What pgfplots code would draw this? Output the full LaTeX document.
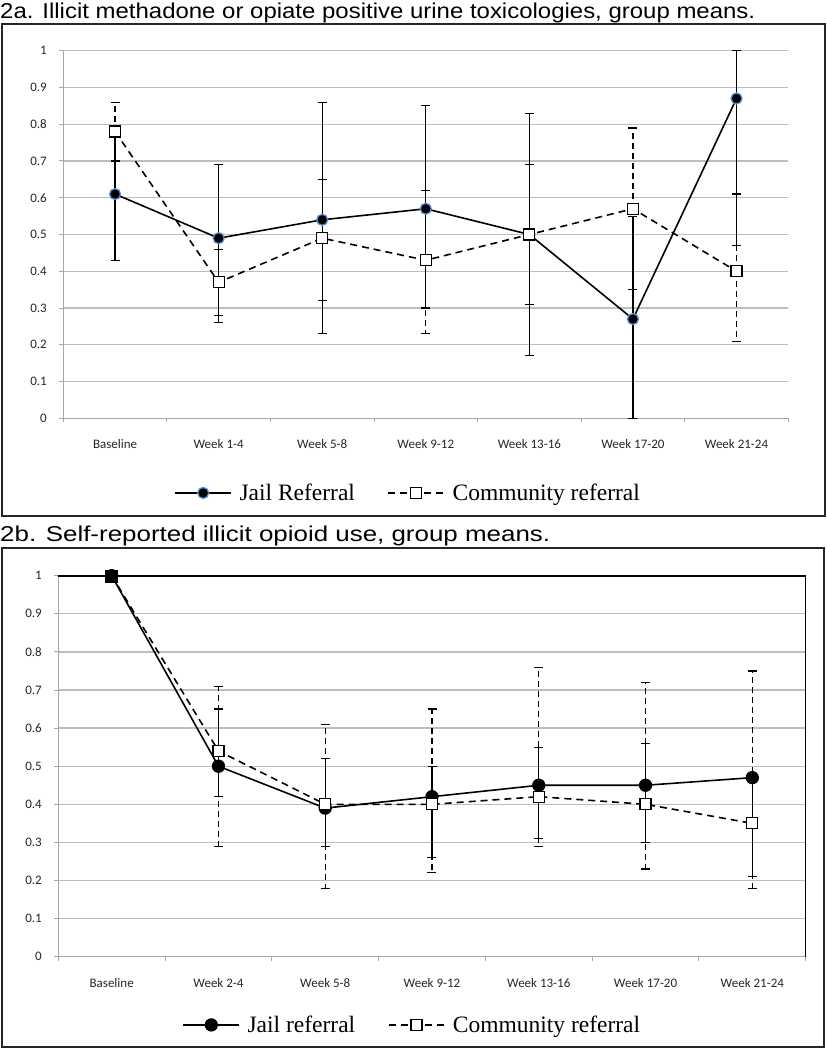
\documentclass[border=0pt]{standalone}
\usepackage{fontspec}
\setmainfont{Liberation Sans}
\newfontfamily\tickfont{Carlito}
\newfontfamily\legfont{Liberation Serif}
\usepackage{graphicx}
\usepackage{pgfplots}
\usepackage{pgfplotstable}
\pgfplotsset{compat=1.18}

\definecolor{gridgray}{HTML}{BEBEBE}
\definecolor{axgray}{HTML}{A6A6A6}
\definecolor{mkblue}{HTML}{5B8FD0}

% top panel (2a)
\pgfplotstableread{
x y ep em
0 0.61 0.18 0.18
1 0.49 0.20 0.23
2 0.54 0.32 0.31
3 0.57 0.28 0.27
4 0.50 0.33 0.33
5 0.27 0.28 0.27
6 0.87 0.13 0.40
}\jailA
\pgfplotstableread{
x y ep em
0 0.78 0.08 0.08
1 0.37 0.09 0.09
2 0.49 0.16 0.17
3 0.43 0.19 0.20
4 0.50 0.19 0.19
5 0.57 0.22 0.22
6 0.40 0.21 0.19
}\commA
% bottom panel (2b)
\pgfplotstableread{
x y ep em
0 1.00 0.00 0.00
1 0.50 0.15 0.08
2 0.39 0.13 0.10
3 0.42 0.08 0.16
4 0.45 0.10 0.14
5 0.45 0.11 0.15
6 0.47 0.00 0.26
}\jailB
\pgfplotstableread{
x y ep em
0 1.00 0.00 0.00
1 0.54 0.17 0.25
2 0.40 0.21 0.22
3 0.40 0.25 0.18
4 0.42 0.34 0.13
5 0.40 0.32 0.17
6 0.35 0.40 0.17
}\commB

\pgfplotsset{
  chart/.style={
    scale only axis,
    xmin=-0.5, xmax=6.5, ymin=0, ymax=1,
    clip=false,
    axis lines*=left,
    axis line style={axgray, line width=1.5pt},
    ytick={0,0.1,...,1.01},
    yticklabel style={xshift=-9pt},
    ymajorgrids,
    grid style={gridgray, line width=1.3pt},
    xtick={-0.5,0.5,...,6.6},
    xticklabels={},
    extra x ticks={0,1,2,3,4,5,6},
    extra x tick style={major tick length=0pt, grid=none,
      xticklabel style={yshift=-18pt}},
    tick align=outside,
    major tick length=4pt,
    tick style={axgray, line width=1pt},
    ticklabel style={font=\tickfont\fontsize{13}{15}\selectfont, text=black!85},
    /pgf/number format/assume math mode=true,
    /pgf/number format/.cd, fixed, precision=1, /pgfplots/.cd,
    error bars/error bar style={line width=1.2pt},
    error bars/error mark options={rotate=90, mark size=4.5pt, line width=1.2pt, solid},
    legend columns=2,
    legend cell align=left,
    legend style={draw=none, fill=none, inner sep=0pt,
      font=\legfont\fontsize{23.5}{25}\selectfont,
      nodes={inner xsep=2.5pt, inner ysep=1pt},
      /tikz/every odd column/.append style={column sep=5pt},
      /tikz/every even column/.append style={column sep=30pt}},
    legend image code/.code={\draw[mark repeat=2,mark phase=2,#1]
      plot coordinates {(0pt,0pt) (28pt,0pt) (56pt,0pt)};},
  },
  jail/.style={black, line width=1.6pt, solid, mark=*, mark size=5.5pt,
    mark options={solid, fill=black, draw=#1, line width=1.3pt},
    error bars/y dir=both, error bars/y explicit},
  comm/.style={black, line width=1.6pt, dash pattern=on 7pt off 5pt, mark=square*, mark size=5.5pt,
    mark options={solid, fill=white, draw=black, line width=1.2pt},
    error bars/y dir=both, error bars/y explicit,
    error bars/error bar style={line width=1.2pt, dash pattern=on 6pt off 4pt}},
}

\begin{document}
\begin{tikzpicture}
\useasboundingbox (0pt,0pt) rectangle (827pt,-1050pt);

% titles
\node[anchor=base west, inner sep=0pt] at (0pt,-18pt)
  {\resizebox{755pt}{\height}{\fontsize{21.5}{24}\selectfont 2a. Illicit methadone or opiate positive urine toxicologies, group means.}};
\node[anchor=base west, inner sep=0pt] at (0pt,-541.7pt)
  {\resizebox{550pt}{\height}{\fontsize{21.5}{24}\selectfont 2b. Self-reported illicit opioid use, group means.}};

% frames
\draw[line width=2pt, black!85] (2pt,-23.5pt) rectangle (825pt,-516pt);
\draw[line width=2pt, black!85] (2pt,-548pt) rectangle (824pt,-1047pt);

% ---- 2a ----
\begin{axis}[chart,
  at={(63.3pt,-418.3pt)}, anchor=south west,
  width=725pt, height=367.6pt,
  extra x tick labels={Baseline,Week 1-4,Week 5-8,Week 9-12,Week 13-16,Week 17-20,Week 21-24},
  legend style={at={(0.476,-0.203)}, anchor=center},
]
\addplot[jail=mkblue] table[x=x, y=y, y error plus=ep, y error minus=em] {\jailA};
\addlegendentry{Jail Referral}
\addplot[comm] table[x=x, y=y, y error plus=ep, y error minus=em] {\commA};
\addlegendentry{Community referral}
\end{axis}

% ---- 2b ----
\begin{axis}[chart,
  at={(58.3pt,-956.7pt)}, anchor=south west,
  width=747.4pt, height=381pt,
  extra x tick labels={Baseline,Week 2-4,Week 5-8,Week 9-12,Week 13-16,Week 17-20,Week 21-24},
  legend style={at={(0.474,-0.179)}, anchor=center},
  after end axis/.code={
    \draw[black, line width=1.6pt] (rel axis cs:0,1) -- (rel axis cs:1,1) -- (rel axis cs:1,0);
  },
]
\addplot[jail=black, mark size=6pt] table[x=x, y=y, y error plus=ep, y error minus=em] {\jailB};
\addlegendentry{Jail referral}
\addplot[comm] table[x=x, y=y, y error plus=ep, y error minus=em] {\commB};
\addlegendentry{Community referral}
\addplot[only marks, mark=square*, mark size=6pt, black, forget plot] coordinates {(0,1)};
\end{axis}
\end{tikzpicture}
\end{document}
